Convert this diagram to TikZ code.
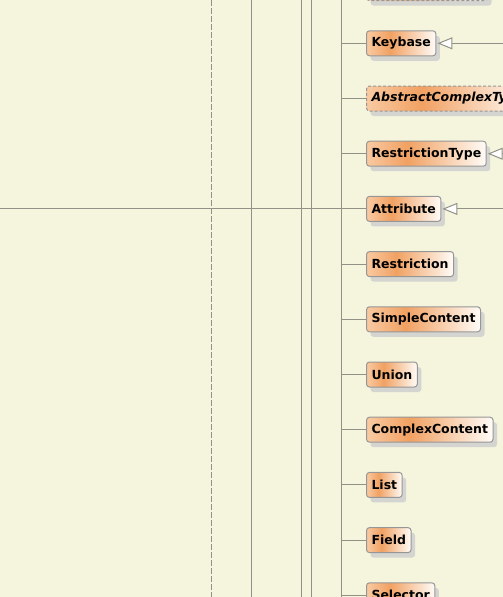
\documentclass[tikz,border=0pt]{standalone}
\usepackage{fontspec}
\setmainfont{DejaVu Sans}
\usetikzlibrary{positioning}
\usetikzlibrary{arrows.meta}
\usetikzlibrary{shadows}
\definecolor{paper}{RGB}{245,245,222}
\definecolor{wire}{RGB}{145,145,135}
\definecolor{boxline}{RGB}{150,150,150}
\definecolor{shadowgrey}{RGB}{212,212,208}
\definecolor{clsleft}{RGB}{249,202,162}
\definecolor{clsmid}{RGB}{241,161,98}
\definecolor{clsright}{RGB}{255,252,248}
\pgfdeclarehorizontalshading{classfill}{100bp}{color(0bp)=(clsleft); color(25bp)=(clsleft); color(42bp)=(clsmid); color(75bp)=(clsright); color(100bp)=(clsright)}
\tikzset{
    umlclass/.style = {rectangle, rounded corners=3pt, draw=boxline, line width=1pt, shading=classfill, anchor=west, minimum height=25pt, inner xsep=5pt, inner ysep=2pt, font=\fontsize{12.5}{14}\selectfont\bfseries, drop shadow={shadow xshift=4pt, shadow yshift=-5pt, fill=shadowgrey, opacity=1}},
    abstractclass/.style = {umlclass, dash pattern=on 3pt off 2pt, font=\fontsize{12.5}{14}\selectfont\bfseries\itshape},
    assoc/.style = {draw=wire, line width=1pt},
    generalize/.style = {assoc, -{Triangle[open, length=15pt, width=12pt, fill=white]}, shorten >=1pt}}
\begin{document}
\begin{tikzpicture}[x=1pt, y=1pt]
    \useasboundingbox[fill=paper] (0,0) rectangle (503,-597);
    \coordinate (origin) at (0,0);
    \coordinate (trunk) at (341.5,0);
    \coordinate (rim) at (520,0);
    % package lanes
    \draw[assoc, dash pattern=on 6pt off 2pt] (211.5,0) -- (211.5,-597);
    \draw[assoc] (251.5,0) -- (251.5,-597) (301.5,0) -- (301.5,-597) (311.5,0) -- (311.5,-597) (trunk) -- (341.5,-597);
    \path (366,11.9) node[abstractclass, minimum width=121pt] (toptype) {}
     ++ (0,-55.2) node[umlclass] (keybase) {Keybase}
     ++ (0,-55.2) node[abstractclass] (abstractct) {AbstractComplexType}
     ++ (0,-55.2) node[umlclass] (restrictiontype) {RestrictionType}
     ++ (0,-55.2) node[umlclass] (attribute) {Attribute}
     ++ (0,-55.2) node[umlclass] (restriction) {Restriction}
     ++ (0,-55.2) node[umlclass] (simplecontent) {SimpleContent}
     ++ (0,-55.2) node[umlclass] (union) {Union}
     ++ (0,-55.2) node[umlclass] (complexcontent) {ComplexContent}
     ++ (0,-55.2) node[umlclass] (list) {List}
     ++ (0,-55.2) node[umlclass] (field) {Field}
     ++ (0,-55.2) node[umlclass] (selector) {Selector};
    \foreach \cls in {toptype,keybase,abstractct,restrictiontype,restriction,simplecontent,union,complexcontent,list,field,selector}
        \draw[assoc] (\cls.west -| trunk) -- (\cls.west);
    \draw[assoc] (attribute.west -| origin) -- (attribute.west);
    \draw[generalize] (keybase.east -| rim) -- (keybase.east);
    \draw[generalize] (restrictiontype.east -| rim) -- (restrictiontype.east);
    \draw[generalize] (attribute.east -| rim) -- (attribute.east);
\end{tikzpicture}
\end{document}
